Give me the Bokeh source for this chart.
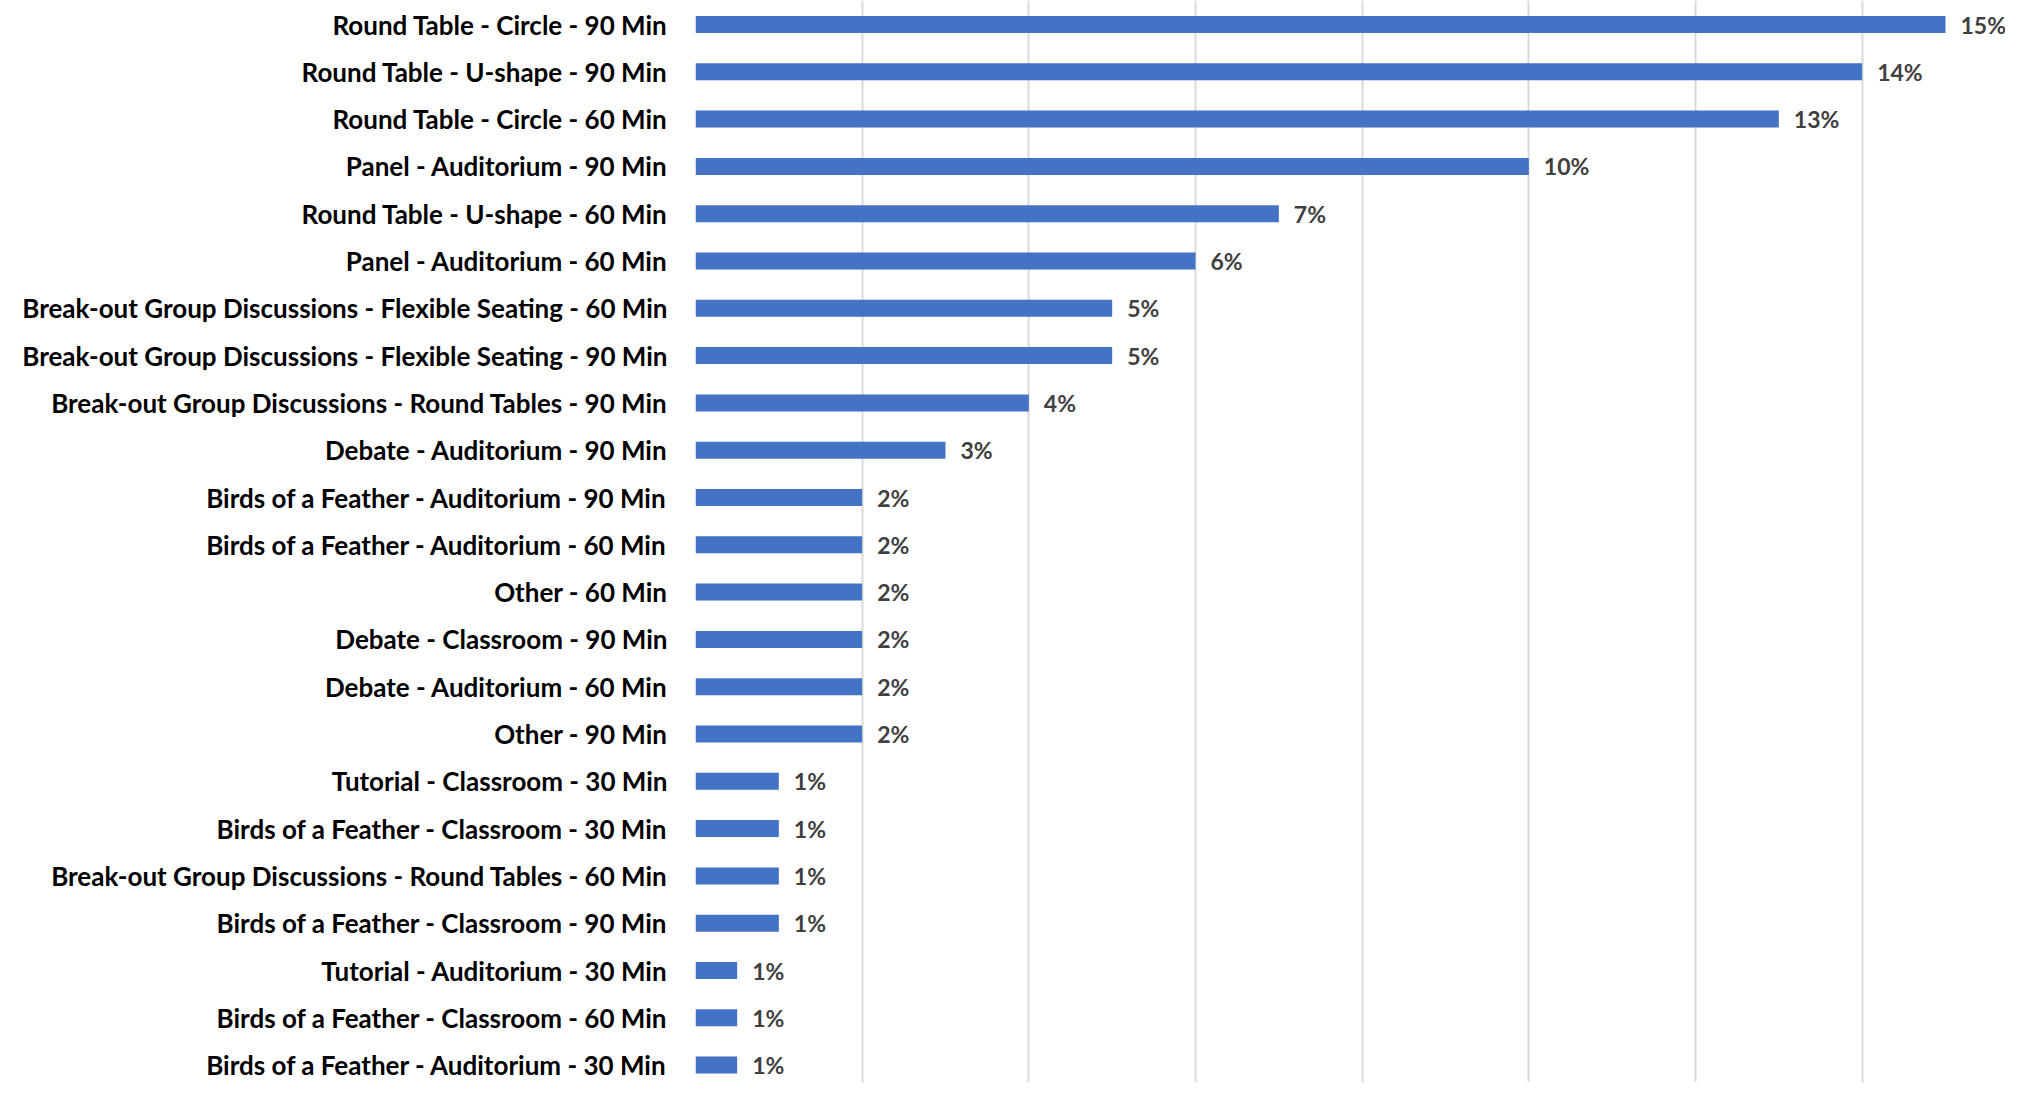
from bokeh.plotting import figure
from bokeh.models import ColumnDataSource, Range1d, FixedTicker
from bokeh.core.properties import value
from bokeh.embed import file_html
from bokeh.resources import INLINE

categories = [
    "Round Table - Circle - 90 Min",
    "Round Table - U-shape - 90 Min",
    "Round Table - Circle - 60 Min",
    "Panel - Auditorium - 90 Min",
    "Round Table - U-shape - 60 Min",
    "Panel - Auditorium - 60 Min",
    "Break-out Group Discussions - Flexible Seating - 60 Min",
    "Break-out Group Discussions - Flexible Seating - 90 Min",
    "Break-out Group Discussions - Round Tables - 90 Min",
    "Debate - Auditorium - 90 Min",
    "Birds of a Feather - Auditorium - 90 Min",
    "Birds of a Feather - Auditorium - 60 Min",
    "Other - 60 Min",
    "Debate - Classroom - 90 Min",
    "Debate - Auditorium - 60 Min",
    "Other - 90 Min",
    "Tutorial - Classroom - 30 Min",
    "Birds of a Feather - Classroom - 30 Min",
    "Break-out Group Discussions - Round Tables - 60 Min",
    "Birds of a Feather - Classroom - 90 Min",
    "Tutorial - Auditorium - 30 Min",
    "Birds of a Feather - Classroom - 60 Min",
    "Birds of a Feather - Auditorium - 30 Min",
]
percent_values = [15, 14, 13, 10, 7, 6, 5, 5, 4, 3, 2, 2, 2, 2, 2, 2, 1, 1, 1, 1, 0.5, 0.5, 0.5]
value_labels = ["15%", "14%", "13%", "10%", "7%", "6%", "5%", "5%", "4%", "3%", "2%", "2%",
                "2%", "2%", "2%", "2%", "1%", "1%", "1%", "1%", "1%", "1%", "1%"]
grid_ticks = [0, 2, 4, 6, 8, 10, 12, 14, 16]

positions = list(range(len(categories)))
source = ColumnDataSource(dict(y=positions, v=percent_values, lab=value_labels))

W, H = 2005, 1082
LEFT = 695
step = 47.3
ytop = -24.0 / step
ybot = ytop + H / step

p = figure(width=W, height=H, output_backend="svg", toolbar_location=None,
           x_range=Range1d(0, 15.72), y_range=Range1d(ybot, ytop),
           x_axis_location=None, y_axis_location="left",
           min_border_left=LEFT, min_border_right=0, min_border_top=0, min_border_bottom=0)
p.outline_line_color = None
p.background_fill_color = "white"
p.border_fill_color = "white"

p.xgrid.ticker = FixedTicker(ticks=grid_ticks)
p.xgrid.grid_line_color = "#d9d9d9"
p.xgrid.grid_line_width = 2
p.ygrid.visible = False

ax = p.yaxis[0]
ax.ticker = FixedTicker(ticks=positions)
ax.major_label_overrides = {i: c for i, c in zip(positions, categories)}
ax.axis_line_color = None
ax.major_tick_line_color = None
ax.minor_tick_line_color = None
ax.major_tick_out = 0
ax.major_tick_in = 0
ax.major_label_standoff = 28
ax.major_label_text_font = "Lato"
ax.major_label_text_font_style = "bold"
ax.major_label_text_font_size = "26px"
ax.major_label_text_color = "#000000"

p.hbar(y="y", left=0, right="v", height=0.36, source=source,
       fill_color="#4472C4", line_color=None)

p.text(x="v", y="y", text="lab", source=source, x_offset=15,
       text_baseline="middle", text_align="left",
       text_font=value("Lato"), text_font_style="bold", text_font_size="23px",
       text_color="#404040")

open("out.html", "w").write(file_html(p, INLINE))
